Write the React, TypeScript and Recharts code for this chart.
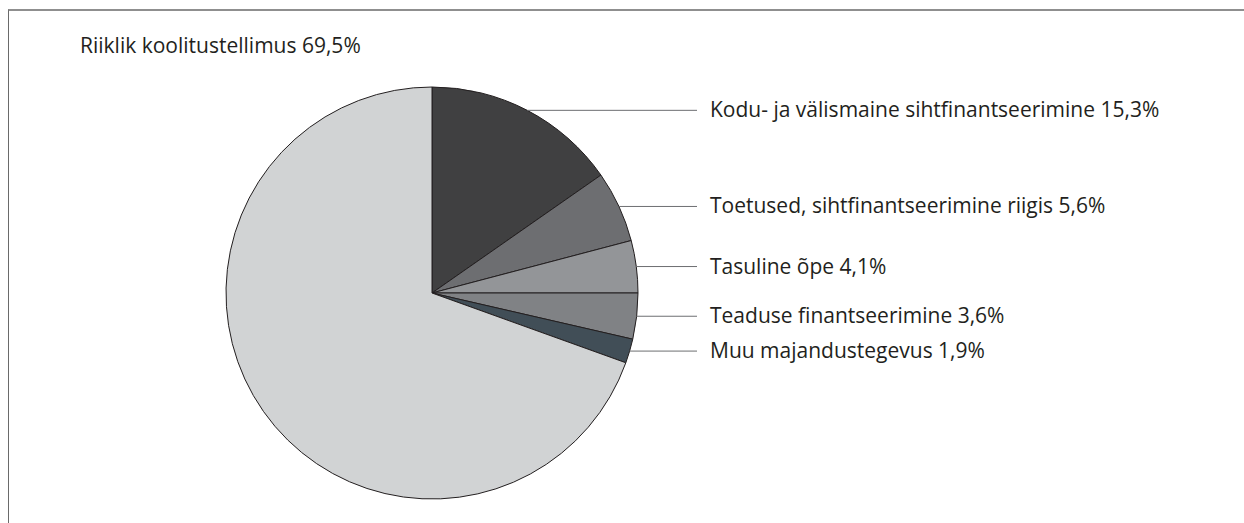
import React from "react";
import { PieChart, Pie, Cell } from "recharts";

const categories = [
  "Kodu- ja välismaine sihtfinantseerimine",
  "Toetused, sihtfinantseerimine riigis",
  "Tasuline õpe",
  "Teaduse finantseerimine",
  "Muu majandustegevus",
  "Riiklik koolitustellimus",
];
const shares = [15.3, 5.6, 4.1, 3.6, 1.9, 69.5];
const colors = ["#404041", "#6d6e71", "#939598", "#808285", "#414e57", "#d1d3d4"];

const data = categories.map((name, i) => ({ name, value: shares[i] }));

const FONT = "'Open Sans', 'Noto Sans', sans-serif";
const TEXT_COLOR = "#231f20";
const FONT_SIZE = 21;
const RAD = Math.PI / 180;

const fmt = (v: number) => v.toFixed(1).replace(".", ",") + "%";

const renderLabel = (props: any) => {
  const { cx, cy, midAngle, outerRadius, index, name, value } = props;
  const text = `${name} ${fmt(value)}`;
  if (index === categories.length - 1) {
    return (
      <text x={80} y={53} fill={TEXT_COLOR} fontSize={FONT_SIZE} fontFamily={FONT}>
        {text}
      </text>
    );
  }
  const px = cx + outerRadius * Math.cos(-midAngle * RAD);
  const py = cy + outerRadius * Math.sin(-midAngle * RAD);
  return (
    <g>
      <line x1={px} y1={py} x2={697} y2={py} stroke="#6d6e71" strokeWidth={1} />
      <text x={710} y={py + 7} fill={TEXT_COLOR} fontSize={FONT_SIZE} fontFamily={FONT}>
        {text}
      </text>
    </g>
  );
};

export default function App() {
  return (
    <div style={{ position: "fixed", left: 0, top: 0, width: 1244, height: 523, background: "#fff", overflow: "hidden" }}>
      <div
        style={{
          position: "absolute",
          left: 8,
          top: 9,
          width: 1244,
          height: 523,
          borderTop: "2px solid #8f8f8f",
          borderLeft: "1px solid #6a6a6a",
          boxSizing: "border-box",
        }}
      />
      <div style={{ position: "absolute", left: 0, top: 0 }}>
        <PieChart width={1244} height={523}>
          <Pie
            data={data}
            dataKey="value"
            nameKey="name"
            cx={427}
            cy={288}
            outerRadius={206}
            startAngle={90}
            endAngle={-270}
            isAnimationActive={false}
            label={renderLabel}
            labelLine={false}
            stroke="#231f20"
            strokeWidth={1}
          >
            {data.map((d, i) => (
              <Cell key={d.name} fill={colors[i]} stroke="#231f20" strokeWidth={1} />
            ))}
          </Pie>
        </PieChart>
      </div>
    </div>
  );
}
